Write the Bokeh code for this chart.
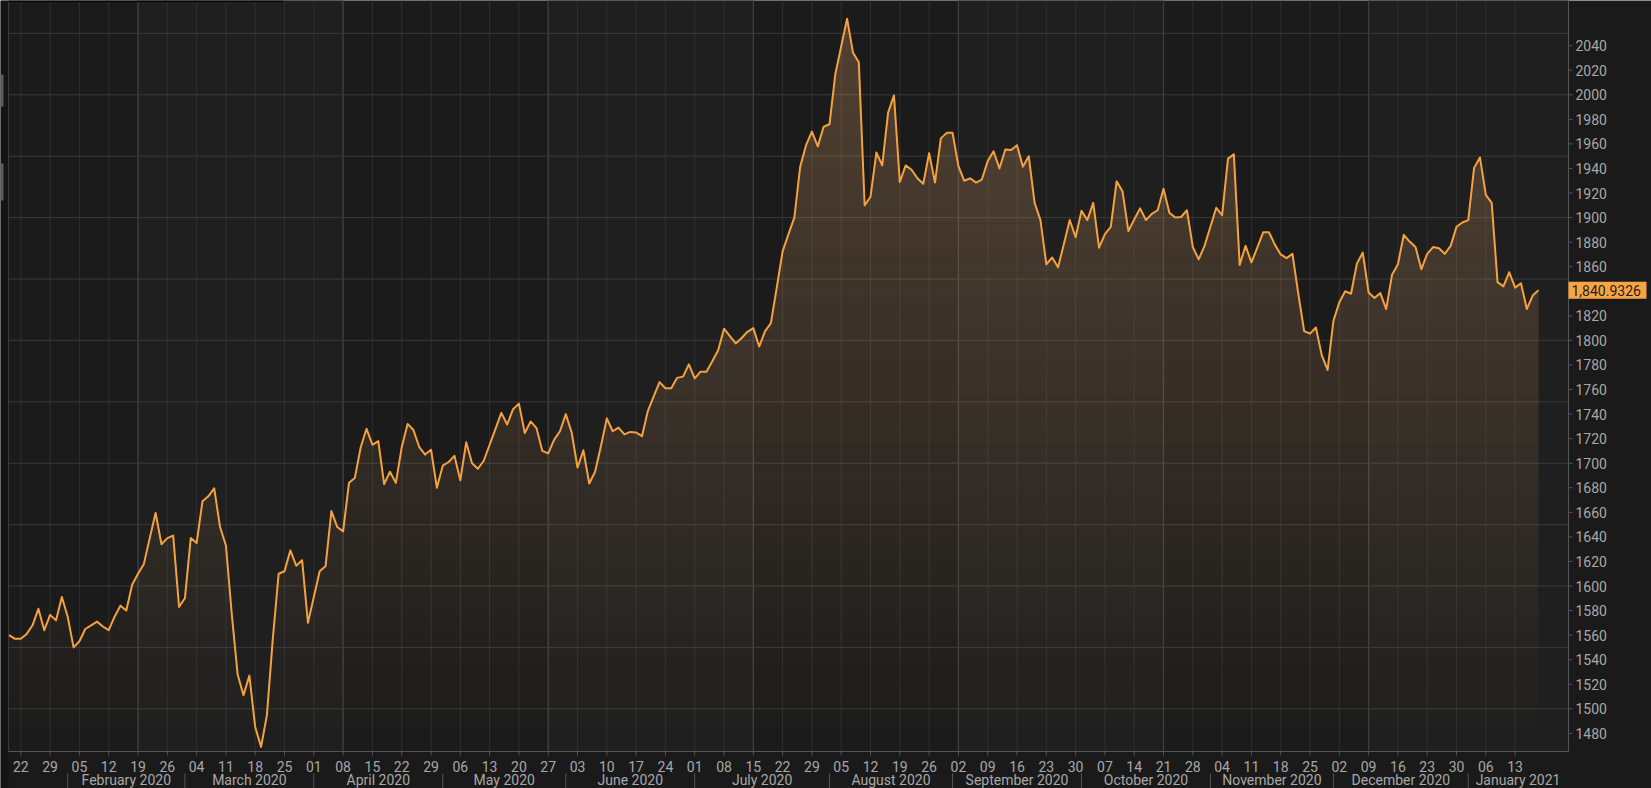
import numpy as np
import pandas as pd
from bokeh.plotting import figure
from bokeh.models import Range1d, BoxAnnotation
from bokeh.core.properties import value
from bokeh.embed import file_html
from bokeh.resources import INLINE

# ---------------- data ----------------
start_date = "2020-01-20"
end_date = "2021-01-19"

prices = [
    1560, 1557, 1557, 1561, 1568, 1581.5, 1564, 1576.5, 1572, 1591,
    1575, 1550, 1555, 1565, 1568, 1571, 1567, 1564, 1575, 1584,
    1580, 1601, 1610, 1618, 1639, 1659.5, 1634, 1639, 1641, 1583,
    1590, 1639, 1635, 1669, 1673, 1679.5, 1648, 1633, 1577, 1528,
    1511, 1527, 1485, 1469, 1495, 1557, 1610, 1612, 1629, 1616.5,
    1621, 1570, 1591, 1612, 1616, 1661, 1648, 1644.5, 1684, 1688,
    1713, 1728, 1715, 1718, 1683, 1693, 1684, 1713, 1732, 1727,
    1713, 1707, 1711, 1680, 1698, 1701, 1706, 1686, 1717, 1700,
    1695.5, 1702, 1715, 1728, 1741, 1731.5, 1744, 1748.5, 1724.5, 1734,
    1728.5, 1710, 1708, 1719, 1726, 1740, 1725, 1696.5, 1710.5, 1683.5,
    1693, 1714, 1736.5, 1726, 1729, 1723.5, 1725.5, 1725, 1722, 1742.5,
    1754.5, 1766, 1761, 1761, 1769.5, 1770.5, 1780.5, 1769, 1774.5, 1774.5,
    1783, 1792, 1809.5, 1803.5, 1797.5, 1802, 1807, 1810, 1795, 1807.5,
    1814, 1843, 1872.5, 1886.5, 1900, 1941.5, 1959, 1970, 1958, 1974,
    1976, 2017, 2039.5, 2062, 2034.5, 2026.5, 1910, 1917, 1953, 1942.5,
    1985.5, 1999.5, 1929, 1942.5, 1939, 1932, 1927.5, 1952.5, 1928.5, 1964.5,
    1969, 1969, 1942, 1930, 1932, 1928.5, 1931, 1946, 1954, 1940,
    1955.5, 1955, 1959, 1941.5, 1950, 1912, 1898, 1862, 1867.5, 1859.5,
    1878.5, 1898, 1884, 1905.5, 1898, 1912, 1875.5, 1886.5, 1892.5, 1929.5,
    1921.5, 1889, 1898.5, 1907.5, 1898, 1903, 1906, 1923.5, 1904, 1900,
    1900.5, 1906, 1876, 1866, 1877, 1892.5, 1908, 1902, 1948, 1951.5,
    1861.5, 1877, 1863.5, 1875.5, 1888, 1888, 1878, 1870, 1867, 1870.5,
    1838, 1807.5, 1805.5, 1810.5, 1788, 1776, 1816, 1831, 1840, 1838,
    1862.5, 1871.5, 1839, 1834.5, 1838.5, 1825.5, 1853.5, 1862, 1886, 1880.5,
    1876, 1858, 1870.5, 1876, 1875, 1870.5, 1877, 1892.5, 1896, 1898,
    1940.5, 1949, 1918.5, 1912, 1847.5, 1844, 1855.5, 1843, 1846.5, 1825.5,
    1836.5, 1840.93,
]
last_price = 1840.9326
last_price_label = "1,840.9326"

price_ticks = [1480, 1500, 1520, 1540, 1560, 1580, 1600, 1620, 1640, 1660,
               1680, 1700, 1720, 1740, 1760, 1780, 1800, 1820, 1860, 1880,
               1900, 1920, 1940, 1960, 1980, 2000, 2020, 2040]
price_tick_labels = [str(v) for v in price_ticks]
grid_levels = [1500, 1550, 1600, 1650, 1700, 1750, 1800, 1850, 1900, 1950, 2000, 2050]

# ---------------- layout constants (pixels) ----------------
PX_PER_DAY = 5.86          # horizontal pixels per business day
PX_PER_UNIT = 1.228        # vertical pixels per price unit
FRAME_W, FRAME_H = 1651, 788
PLOT_LEFT_PX = 8           # page x of the plotting area's left edge
AXIS_PX = 1568             # page x of the price axis line
BASE_PX = 751              # page y of the time axis line
X0_PX = 8.6                # page x of the first business day
Y2000_PX = 94.3            # page y of the 2000 level


def px_to_x(px):
    return (px - X0_PX) / PX_PER_DAY


def px_to_y(py):
    return 2000 - (py - Y2000_PX) / PX_PER_UNIT


x_lo = px_to_x(0)
x_hi = px_to_x(FRAME_W)
x_left = px_to_x(PLOT_LEFT_PX)
x_axis = px_to_x(AXIS_PX)
y_top = px_to_y(0)
y_bottom = px_to_y(FRAME_H)
y_base = px_to_y(BASE_PX)

# ---------------- derived positions ----------------
dates = pd.bdate_range(start_date, end_date)
n = len(prices)
dates = dates[:n]
idx = np.arange(n, dtype=float)
vals = np.array(prices, dtype=float)

wednesdays = [int(i) for i, d in enumerate(dates) if d.weekday() == 2]
day_labels = [dates[i].strftime("%d") for i in wednesdays]
major_lines = wednesdays[4::7]

month_starts = [int(i) for i in range(1, n) if dates[i].month != dates[i - 1].month]
month_centers = []
month_labels = []
for k, m in enumerate(month_starts):
    nxt = month_starts[k + 1] if k + 1 < len(month_starts) else 266
    month_centers.append((m + nxt) / 2.0)
    month_labels.append(dates[m].strftime("%B %Y"))

# ---------------- styling ----------------
OUTER = "#1a1a1a"
BG = "#1b1b1b"
BAND = "#1f1f1f"
ORANGE = "#f5a23e"
FILL = "#dca06a"
TXT = "#a8a8a8"
AXC = "#555555"
FONT = "Roboto"
FS = "14px"

p = figure(frame_width=FRAME_W, frame_height=FRAME_H,
           x_range=Range1d(x_lo, x_hi), y_range=Range1d(y_bottom, y_top),
           output_backend="svg", toolbar_location=None,
           x_axis_location=None, y_axis_location=None,
           min_border=0,
           background_fill_color=OUTER, border_fill_color=OUTER,
           outline_line_color=None)
for g in list(p.grid):
    g.visible = False

# left strip with its small grey handles
p.add_layout(BoxAnnotation(left=x_lo, right=x_left, fill_color="#141414",
                           fill_alpha=1.0, line_color=None, level="underlay"))
p.quad(left=x_lo, right=px_to_x(3), bottom=[px_to_y(106), px_to_y(200)],
       top=[px_to_y(74), px_to_y(163)], fill_color="#5a5a5a", line_color=None)

# plotting area background and alternating period bands
p.add_layout(BoxAnnotation(left=x_left, right=x_axis, bottom=y_base, fill_color=BG,
                           fill_alpha=1.0, line_color=None, level="underlay"))
edges = list(major_lines) + [x_axis]
for k in range(0, len(edges) - 1, 2):
    p.add_layout(BoxAnnotation(left=edges[k], right=edges[k + 1], bottom=y_base,
                               fill_color=BAND, fill_alpha=1.0, line_color=None,
                               level="underlay"))

# grid lines
p.segment(x0=x_left, y0=y_base, x1=x_left, y1=y_top, line_color="#3a3a3a", line_width=1)
p.segment(x0=wednesdays, y0=y_base, x1=wednesdays, y1=y_top,
          line_color="#2f2f2f", line_width=1)
p.segment(x0=major_lines, y0=y_base, x1=major_lines, y1=y_top,
          line_color="#3e3e3e", line_width=1.3)
p.segment(x0=x_left, y0=grid_levels, x1=x_axis, y1=grid_levels,
          line_color="#3a3a3a", line_width=1)

# thin dark bar at the top-left edge
p.quad(left=x_left, right=px_to_x(283), bottom=px_to_y(1.5), top=y_top,
       fill_color="#050505", line_color=None)


# vertical gradient fill under the line: non-overlapping horizontal slices,
# each slice with its own opacity (brighter towards the top). The slice outline
# follows the price line exactly (its crossings with the slice limits are added).
def slice_outline(lo, hi):
    xs = [idx]
    for lev in (lo, hi):
        d = vals - lev
        s = np.where(d[:-1] * d[1:] < 0)[0]
        xs.append(s + d[s] / (d[s] - d[s + 1]))
    x = np.unique(np.concatenate(xs))
    y = np.interp(x, idx, vals)
    return x, np.clip(y, lo, hi)


STEP = 10.0
for L in np.arange(y_base, 2070, STEP):
    if vals.max() <= L:
        continue
    mid = L + STEP / 2
    a = float(np.clip(0.28 * (mid - 1465) / (2040 - 1465), 0.0, 0.3))
    sx, sy = slice_outline(L, L + STEP)
    p.varea(x=sx, y1=L, y2=sy, fill_color=FILL, fill_alpha=a)

p.line(idx, vals, line_color=ORANGE, line_width=2, line_join="round")

# ---- right price axis ----
p.segment(x0=x_axis, y0=y_base, x1=x_axis, y1=y_top, line_color=AXC, line_width=1)
p.segment(x0=x_axis, y0=price_ticks, x1=x_axis + 4 / PX_PER_DAY, y1=price_ticks,
          line_color=AXC, line_width=1)
p.text(x=x_axis + 7 / PX_PER_DAY, y=price_ticks, text=price_tick_labels,
       text_font=value(FONT), text_font_size=FS, text_color=TXT,
       text_align="left", text_baseline="middle")

# last price tag
p.quad(left=x_axis, right=x_axis + 78 / PX_PER_DAY,
       bottom=last_price - 8.5 / PX_PER_UNIT, top=last_price + 8.5 / PX_PER_UNIT,
       fill_color="#f8a443", line_color=None)
p.text(x=x_axis + 3 / PX_PER_DAY, y=last_price, text=[last_price_label],
       text_font=value(FONT), text_font_size=FS, text_color="#1e1e1e",
       text_align="left", text_baseline="middle")

# ---- bottom time axis ----
p.segment(x0=x_left, y0=y_base, x1=x_axis, y1=y_base, line_color=AXC, line_width=1)
p.segment(x0=wednesdays, y0=y_base, x1=wednesdays, y1=px_to_y(BASE_PX + 4),
          line_color=AXC, line_width=1)
p.text(x=wednesdays, y=px_to_y(766), text=day_labels,
       text_font=value(FONT), text_font_size=FS, text_color=TXT,
       text_align="center", text_baseline="middle")
# month separators and names
p.segment(x0=month_starts, y0=px_to_y(773), x1=month_starts, y1=px_to_y(788),
          line_color=AXC, line_width=1)
p.text(x=month_centers, y=px_to_y(779.5), text=month_labels,
       text_font=value(FONT), text_font_size=FS, text_color=TXT,
       text_align="center", text_baseline="middle")

open("out.html", "w").write(file_html(p, INLINE))
